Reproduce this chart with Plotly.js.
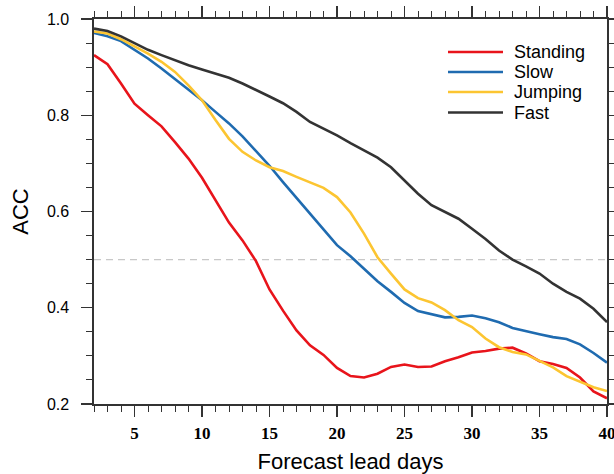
<!DOCTYPE html>
<html>
<head>
<meta charset="utf-8">
<script src="https://cdn.plot.ly/plotly-3.0.1.min.js"></script>
<style>html,body{margin:0;padding:0;background:#fff;}#chart{width:614px;height:474px;}</style>
</head>
<body>
<div id="chart"></div>
<script>
const leadDays = [2,3,4,5,6,7,8,9,10,11,12,13,14,15,16,17,18,19,20,21,22,23,24,25,26,27,28,29,30,31,32,33,34,35,36,37,38,39,40];
const standing = [0.925,0.906,0.866,0.824,0.800,0.777,0.744,0.710,0.670,0.623,0.577,0.540,0.497,0.438,0.394,0.353,0.322,0.302,0.275,0.258,0.255,0.263,0.277,0.282,0.277,0.278,0.289,0.297,0.307,0.310,0.315,0.317,0.305,0.289,0.283,0.275,0.255,0.226,0.212];
const slow = [0.971,0.964,0.954,0.936,0.918,0.897,0.875,0.853,0.831,0.807,0.783,0.756,0.726,0.695,0.661,0.629,0.595,0.563,0.530,0.507,0.481,0.455,0.433,0.410,0.393,0.386,0.380,0.381,0.384,0.378,0.370,0.358,0.351,0.345,0.339,0.335,0.324,0.306,0.286];
const jumping = [0.974,0.970,0.958,0.943,0.928,0.911,0.890,0.862,0.831,0.790,0.751,0.724,0.706,0.692,0.684,0.672,0.660,0.649,0.630,0.598,0.554,0.505,0.471,0.438,0.420,0.411,0.395,0.374,0.360,0.336,0.318,0.308,0.303,0.289,0.276,0.258,0.246,0.235,0.227];
const fast = [0.980,0.975,0.964,0.950,0.936,0.925,0.914,0.904,0.895,0.887,0.878,0.866,0.853,0.839,0.825,0.807,0.786,0.772,0.758,0.742,0.727,0.712,0.692,0.665,0.637,0.613,0.599,0.585,0.564,0.543,0.519,0.500,0.486,0.471,0.450,0.433,0.419,0.398,0.370];
const seriesNames = ["Standing","Slow","Jumping","Fast"];
const seriesColors = ["#e8141b","#1f6bb0","#fcc531","#333333"];
const refLevel = 0.5;

const allSeries = [standing, slow, jumping, fast];
const traces = allSeries.map((vals, i) => ({
  x: leadDays, y: vals, type: 'scatter', mode: 'lines', name: seriesNames[i],
  line: {color: seriesColors[i], width: 2.6}
}));

// Manual legend (paper coordinates) to match the compact row spacing
const legX0 = (448 - 94) / 513, legX1 = (503 - 94) / 513, legTextX = (512 - 94) / 513;
const legRowsPx = [52, 72, 92, 112.5];
const legShapes = [], legAnn = [];
seriesNames.forEach((nm, i) => {
  const yp = (404 - legRowsPx[i]) / 385;
  legShapes.push({type: 'line', xref: 'paper', yref: 'paper', x0: legX0, x1: legX1, y0: yp, y1: yp,
    line: {color: seriesColors[i], width: 2.6}});
  legAnn.push({xref: 'paper', yref: 'paper', x: legTextX, y: yp, xanchor: 'left', yanchor: 'middle',
    text: nm, showarrow: false, font: {family: 'Liberation Sans, Arial, sans-serif', size: 18, color: '#000'}});
});

const axisCommon = {
  showgrid: false, zeroline: false, showline: true, linecolor: '#333', linewidth: 1.6,
  mirror: 'allticks', ticks: 'outside', tickcolor: '#333', tickwidth: 1.3, ticklen: 11,
  ticklabeloverflow: 'allow'
};

const layout = {
  width: 614, height: 474,
  margin: {l: 94, r: 7, t: 19, b: 70},
  paper_bgcolor: '#fff', plot_bgcolor: '#fff',
  showlegend: false,
  xaxis: Object.assign({}, axisCommon, {
    range: [2, 40], tick0: 5, dtick: 5,
    tickfont: {family: 'Liberation Serif, Times New Roman, serif', size: 17, color: '#000', weight: 'bold'},
    ticklabelstandoff: 2,
    minor: {dtick: 1, tick0: 0, ticks: 'outside', ticklen: 6, tickcolor: '#333', tickwidth: 1},
    title: {text: 'Forecast lead days', font: {family: 'Liberation Sans, Arial, sans-serif', size: 22, color: '#000'}, standoff: 16}
  }),
  yaxis: Object.assign({}, axisCommon, {
    range: [0.2, 1.0], tick0: 0.2, dtick: 0.2, tickformat: '.1f',
    tickfont: {family: 'Liberation Sans, Arial, sans-serif', size: 16, color: '#000'},
    ticklabelstandoff: 9,
    minor: {dtick: 0.05, tick0: 0.2, ticks: 'outside', ticklen: 6, tickcolor: '#333', tickwidth: 1},
    title: {text: 'ACC', font: {family: 'Liberation Sans, Arial, sans-serif', size: 22, color: '#000'}, standoff: 12}
  }),
  shapes: [{type: 'line', xref: 'paper', x0: 0, x1: 1, yref: 'y', y0: refLevel, y1: refLevel, layer: 'below',
    line: {color: '#c8c8c8', width: 1.2, dash: '7px,5px'}}].concat(legShapes),
  annotations: legAnn
};

Plotly.newPlot('chart', traces, layout, {displayModeBar: false, staticPlot: true});
</script>
</body>
</html>
